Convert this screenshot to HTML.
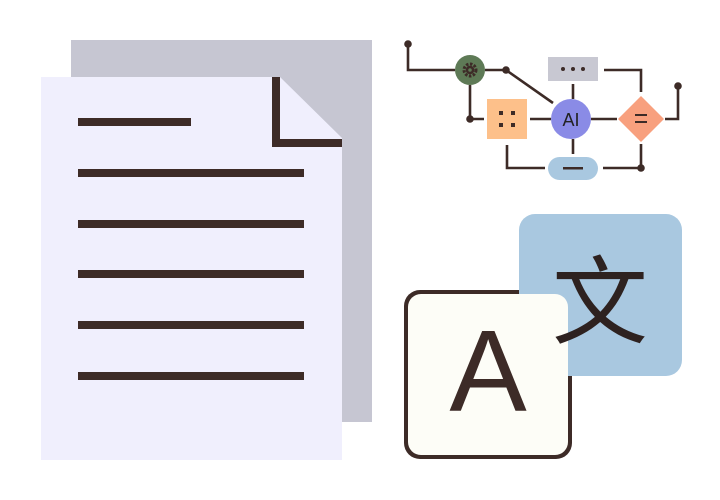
<!DOCTYPE html>
<html><head><meta charset="utf-8"><style>html,body{margin:0;padding:0;background:#fff;width:720px;height:500px;overflow:hidden}</style></head>
<body>
<svg width="720" height="500" viewBox="0 0 720 500" xmlns="http://www.w3.org/2000/svg">
<rect x="71" y="40" width="301" height="382" fill="#c6c6d2"/>
<polygon points="41,77 280,77 342,138 342,460 41,460" fill="#f0effd"/>
<path d="M276,77 V143 H342" fill="none" stroke="#3d2b27" stroke-width="8"/>
<g fill="#3d2b27">
<rect x="78" y="118" width="113" height="8"/>
<rect x="78" y="169" width="226" height="8"/>
<rect x="78" y="220" width="226" height="8"/>
<rect x="78" y="270" width="226" height="8"/>
<rect x="78" y="321" width="226" height="8"/>
<rect x="78" y="372" width="226" height="8"/>
</g>
<g stroke="#3d2b27" stroke-width="2.6" fill="none">
<path d="M408,44 V70 H455"/>
<path d="M485,70 H506 L553,103"/>
<path d="M470,85 V119 H484"/>
<path d="M530,119 H551"/>
<path d="M573,84 V99"/>
<path d="M604,70 H641 V92"/>
<path d="M591,119 H617"/>
<path d="M665,119 H678 V86"/>
<path d="M573,139 V154"/>
<path d="M507,145 V168 H545"/>
<path d="M603,168 H641 V144"/>
</g>
<g fill="#3d2b27">
<circle cx="408" cy="44" r="3.8"/><circle cx="506" cy="70" r="3.8"/><circle cx="470" cy="119" r="3.8"/>
<circle cx="678" cy="86" r="3.8"/><circle cx="641" cy="168" r="3.8"/>
</g>
<circle cx="470" cy="70" r="15" fill="#5e7a56"/>
<circle cx="470" cy="70" r="6" fill="none" stroke="#3d2b27" stroke-width="3" stroke-dasharray="2.5 1.5"/>
<circle cx="470" cy="70" r="3" fill="none" stroke="#3d2b27" stroke-width="2.5"/>
<rect x="548" y="57" width="50" height="24" fill="#c8c8d2"/>
<g fill="#3d2b27"><circle cx="563" cy="69" r="2"/><circle cx="573" cy="69" r="2"/><circle cx="583" cy="69" r="2"/></g>
<rect x="487" y="99" width="40" height="40" fill="#fdc08a"/>
<g fill="#3d2b27"><rect x="499" y="111" width="4" height="4"/><rect x="511" y="111" width="4" height="4"/><rect x="499" y="123" width="4" height="4"/><rect x="511" y="123" width="4" height="4"/></g>
<circle cx="571" cy="119" r="20" fill="#8a8be6"/>
<text x="571" y="126" font-family="Liberation Sans, sans-serif" font-size="18" text-anchor="middle" fill="#222">AI</text>
<polygon points="641,96 664,119 641,142 618,119" fill="#f8a07e"/>
<g fill="#3d2b27"><rect x="635" y="114" width="12" height="2"/><rect x="635" y="121" width="12" height="2"/></g>
<rect x="548" y="157" width="50" height="23" rx="11.5" fill="#a9c8e0"/>
<rect x="563" y="167" width="20" height="2.5" fill="#3d2b27"/>
<rect x="404" y="290" width="168" height="169" rx="16" fill="#3d2b27"/>
<rect x="519" y="214" width="163" height="162" rx="16" fill="#a9c8e0"/>
<rect x="408" y="294" width="160" height="161" rx="13" fill="#fdfdf7"/>
<text x="600" y="336" font-family="Noto Sans CJK SC, sans-serif" font-size="96" text-anchor="middle" fill="#2e2220">文</text>
<text x="488" y="411" font-family="Liberation Sans, sans-serif" font-size="116" text-anchor="middle" fill="#3d2b27">A</text>
</svg>
</body></html>
